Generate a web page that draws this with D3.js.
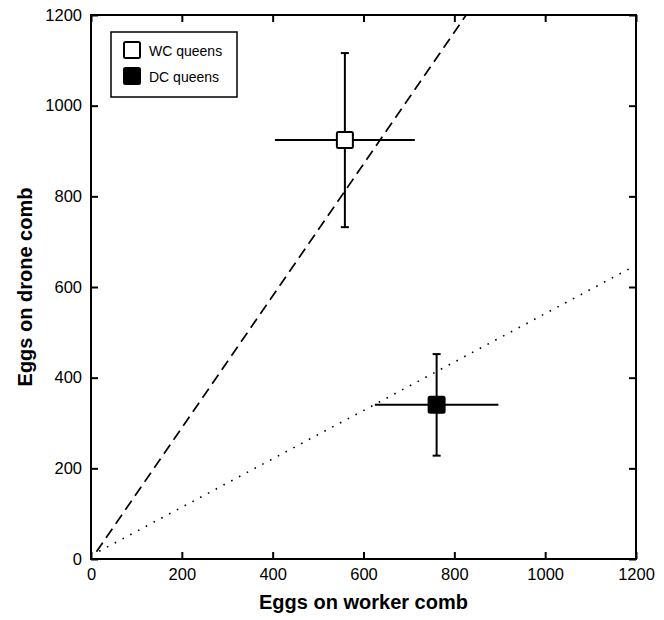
<!DOCTYPE html>
<html>
<head>
<meta charset="utf-8">
<script src="https://cdn.jsdelivr.net/npm/d3@7"></script>
<style>
  body { margin: 0; background: #fff; }
  text { font-family: "Liberation Sans", Arial, sans-serif; fill: #000; }
</style>
</head>
<body>
<div id="chart"></div>
<script>
// values
let groups = ['WC queens', 'DC queens']
let workerMean = [559, 761]
let workerErr = [154, 136]
let droneMean = [924, 340]
let droneErr = [192, 112]
let markerFill = ['#fff', '#000']

let tickValues = [0, 200, 400, 600, 800, 1000, 1200]

// reference lines, as [worker, drone] end points
let dashedLine = [[12, 16], [826, 1200]]
let dottedLine = [[18, 17], [1200, 648]]

let width = 664, height = 620
let margin = { left: 91, right: 28, top: 15, bottom: 61 }

let svg = d3.select('#chart')
  .append('svg')
  .attr('width', width)
  .attr('height', height)

let x = d3.scaleLinear().domain([0, 1200]).range([margin.left, width - margin.right])
let y = d3.scaleLinear().domain([0, 1200]).range([height - margin.bottom, margin.top])

let fmt = d3.format('d')

let points = groups.map(function(g, i) {
  return { name: g, wx: workerMean[i], wErr: workerErr[i], dy: droneMean[i], dErr: droneErr[i], fill: markerFill[i] }
})

// axes with inward ticks on all four sides
function styleAxis(sel) {
  sel.select('.domain').remove()
  sel.selectAll('.tick line').attr('stroke', '#000').attr('stroke-width', 2)
  sel.selectAll('.tick text').style('font-size', '16.5px').style('font-family', '"Liberation Sans", Arial, sans-serif')
}

svg.append('g')
  .attr('transform', 'translate(0,' + y(0) + ')')
  .call(d3.axisBottom(x).tickValues(tickValues).tickFormat(fmt).tickSize(-7).tickPadding(9))
  .call(styleAxis)

svg.append('g')
  .attr('transform', 'translate(' + x(0) + ',0)')
  .call(d3.axisLeft(y).tickValues(tickValues).tickFormat(fmt).tickSize(-7).tickPadding(9))
  .call(styleAxis)

svg.append('g')
  .attr('transform', 'translate(0,' + y(1200) + ')')
  .call(d3.axisTop(x).tickValues(tickValues).tickSize(-7).tickFormat(''))
  .call(styleAxis)

svg.append('g')
  .attr('transform', 'translate(' + x(1200) + ',0)')
  .call(d3.axisRight(y).tickValues(tickValues).tickSize(-7).tickFormat(''))
  .call(styleAxis)

svg.append('rect')
  .attr('x', x(0))
  .attr('y', y(1200))
  .attr('width', x(1200) - x(0))
  .attr('height', y(0) - y(1200))
  .attr('fill', 'none')
  .attr('stroke', '#000')
  .attr('stroke-width', 2)

// reference lines
let line = d3.line()
  .x(function(d) { return x(d[0]) })
  .y(function(d) { return y(d[1]) })

svg.append('path')
  .attr('d', line(dashedLine))
  .attr('fill', 'none')
  .attr('stroke', '#000')
  .attr('stroke-width', 1.7)
  .attr('stroke-dasharray', '11,6')

svg.append('path')
  .attr('d', line(dottedLine))
  .attr('fill', 'none')
  .attr('stroke', '#000')
  .attr('stroke-width', 1.6)
  .attr('stroke-dasharray', '1.6,7.2')

// error bars
let bars = svg.append('g').attr('stroke', '#000').attr('stroke-width', 2)

bars.selectAll('line.h')
  .data(points)
  .enter()
  .append('line')
  .attr('class', 'h')
  .attr('x1', function(d) { return x(d.wx - d.wErr) })
  .attr('x2', function(d) { return x(d.wx + d.wErr) })
  .attr('y1', function(d) { return y(d.dy) })
  .attr('y2', function(d) { return y(d.dy) })

bars.selectAll('line.v')
  .data(points)
  .enter()
  .append('line')
  .attr('class', 'v')
  .attr('x1', function(d) { return x(d.wx) })
  .attr('x2', function(d) { return x(d.wx) })
  .attr('y1', function(d) { return y(d.dy - d.dErr) })
  .attr('y2', function(d) { return y(d.dy + d.dErr) })

let caps = []
points.forEach(function(d) {
  caps.push({ x: d.wx, y: d.dy - d.dErr })
  caps.push({ x: d.wx, y: d.dy + d.dErr })
})

bars.selectAll('line.cap')
  .data(caps)
  .enter()
  .append('line')
  .attr('class', 'cap')
  .attr('x1', function(d) { return x(d.x) - 4 })
  .attr('x2', function(d) { return x(d.x) + 4 })
  .attr('y1', function(d) { return y(d.y) })
  .attr('y2', function(d) { return y(d.y) })

let ms = 16
svg.append('g')
  .selectAll('rect')
  .data(points)
  .enter()
  .append('rect')
  .attr('x', function(d) { return x(d.wx) - ms / 2 })
  .attr('y', function(d) { return y(d.dy) - ms / 2 })
  .attr('width', ms)
  .attr('height', ms)
  .attr('rx', 1.5)
  .attr('fill', function(d) { return d.fill })
  .attr('stroke', '#000')
  .attr('stroke-width', 2)

// legend
let legend = svg.append('g').attr('transform', 'translate(111,32)')

legend.append('rect')
  .attr('width', 126)
  .attr('height', 65)
  .attr('fill', '#fff')
  .attr('stroke', '#000')
  .attr('stroke-width', 1.5)

let item = legend.selectAll('g.item')
  .data(points)
  .enter()
  .append('g')
  .attr('class', 'item')
  .attr('transform', function(d, i) { return 'translate(0,' + (18 + i * 26) + ')' })

item.append('rect')
  .attr('x', 13)
  .attr('y', -ms / 2)
  .attr('width', ms)
  .attr('height', ms)
  .attr('rx', 1.5)
  .attr('fill', function(d) { return d.fill })
  .attr('stroke', '#000')
  .attr('stroke-width', 2)

item.append('text')
  .attr('x', 38)
  .attr('y', 5.5)
  .style('font-size', '14px')
  .text(function(d) { return d.name })

// axis titles
svg.append('text')
  .attr('x', (x(0) + x(1200)) / 2)
  .attr('y', 609)
  .attr('text-anchor', 'middle')
  .style('font-size', '20px')
  .style('font-weight', 'bold')
  .text('Eggs on worker comb')

svg.append('text')
  .attr('transform', 'translate(32,' + (y(0) + y(1200)) / 2 + ') rotate(-90)')
  .attr('text-anchor', 'middle')
  .style('font-size', '20px')
  .style('font-weight', 'bold')
  .text('Eggs on drone comb')
</script>
</body>
</html>
